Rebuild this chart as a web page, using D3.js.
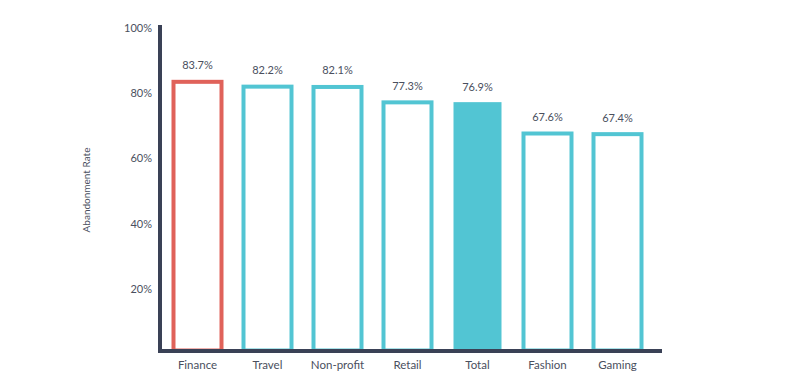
<!DOCTYPE html>
<html><head><meta charset="utf-8">
<script src="https://cdn.jsdelivr.net/npm/d3@7"></script>
<style>body{margin:0;background:#fff}svg{display:block}text{font-family:Lato,"Open Sans",sans-serif;fill:#4a4f5e}</style>
</head><body>
<svg id="c" width="785" height="385"></svg>
<script>
const categories = ["Finance","Travel","Non-profit","Retail","Total","Fashion","Gaming"];
const values = [83.7,82.2,82.1,77.3,76.9,67.6,67.4];
const yTicks = [20,40,60,80,100];
const kinds = ["highlight","outline","outline","outline","filled","outline","outline"];

const svg = d3.select("#c");
const red = "#e0625a", teal = "#52c5d3", axisCol = "#3a4156";
const x = d3.scaleBand().domain(categories).range([162.5,652.5]).paddingInner(22/70).paddingOuter(11/70);
const y = d3.scaleLinear().domain([0,100]).range([349,28]);
const yLab = d3.scaleLinear().domain([0,100]).range([354,28]);
const sw = 4;

const g = svg.append("g");
categories.forEach((c,i)=>{
  const v = values[i], k = kinds[i];
  if(k==="filled"){
    g.append("rect").attr("x",x(c)).attr("width",x.bandwidth())
     .attr("y",y(v)).attr("height",y(0)-y(v)).attr("fill",teal);
  } else {
    g.append("rect").attr("x",x(c)+sw/2-2).attr("width",x.bandwidth()+4-sw)
     .attr("y",y(v)+sw/2-0.5).attr("height",y(0)-y(v))
     .attr("fill","none").attr("stroke",k==="highlight"?red:teal).attr("stroke-width",sw);
  }
  g.append("text").attr("x",x(c)+x.bandwidth()/2).attr("y",y(v)-11)
   .attr("text-anchor","middle").attr("font-size",11).text(v.toFixed(1)+"%");
  g.append("text").attr("x",x(c)+x.bandwidth()/2).attr("y",369)
   .attr("text-anchor","middle").attr("font-size",11.5).text(c);
});

// axes
svg.append("rect").attr("x",158).attr("y",25).attr("width",4).attr("height",328).attr("fill",axisCol);
svg.append("rect").attr("x",158).attr("y",349).attr("width",504).attr("height",4).attr("fill",axisCol);

yTicks.forEach(t=>{
  svg.append("text").attr("x",152).attr("y",yLab(t)+4).attr("text-anchor","end")
   .attr("font-size",11).text(t+"%");
});

svg.append("text").attr("transform","translate(90,190) rotate(-90)")
 .attr("text-anchor","middle").attr("font-size",10).text("Abandonment Rate");
</script>
</body></html>
